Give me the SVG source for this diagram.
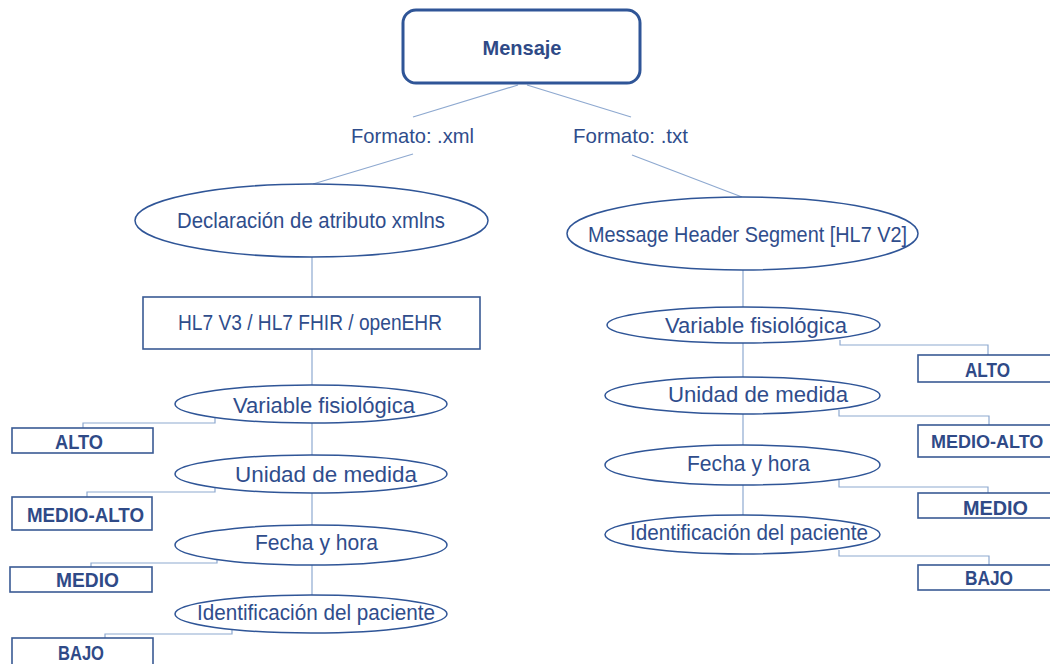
<svg xmlns="http://www.w3.org/2000/svg" width="1050" height="664" viewBox="0 0 1050 664">
  <style>
    text { font-family: "Liberation Sans", Arial, sans-serif; fill: #2F4D8C; }
    .lbl { font-size: 22px; }
    .fmt { font-size: 21px; }
    .lvl { font-size: 19.5px; font-weight: bold; fill: #2F4A87; }
    .lvl-edge { font-size: 18px; }
    .title { font-size: 21px; font-weight: bold; fill: #2F4A87; }
    .ell { fill: #ffffff; stroke: #2F5597; stroke-width: 1.5; }
    .box { fill: #ffffff; stroke: #3A5A94; stroke-width: 1.6; }
    .main { fill: #ffffff; stroke: #2F5597; stroke-width: 3; }
    .conn { fill: none; stroke: #8EA9D0; stroke-width: 1.2; }
  </style>
  <rect width="1050" height="664" fill="#ffffff"/>

  <!-- connectors -->
  <g id="connectors" class="conn">
    <line x1="518" y1="85" x2="413" y2="117"/>
    <line x1="527" y1="85" x2="631" y2="117"/>
    <line x1="413" y1="154" x2="313" y2="184"/>
    <line x1="632" y1="155" x2="742" y2="197"/>
    <!-- left column spine -->
    <line x1="312" y1="257" x2="312" y2="297"/>
    <line x1="312" y1="349" x2="312" y2="385"/>
    <line x1="312" y1="423" x2="312" y2="455"/>
    <line x1="312" y1="493" x2="312" y2="525"/>
    <line x1="312" y1="565" x2="312" y2="595"/>
    <!-- left level links -->
    <path d="M215,418 V423 H83 V428"/>
    <path d="M215,488 V492 H87 V497"/>
    <path d="M217,559 V563 H91 V567"/>
    <path d="M232,630 V634 H105 V638"/>
    <!-- right column spine -->
    <line x1="743" y1="270" x2="743" y2="307"/>
    <line x1="743" y1="343" x2="743" y2="377"/>
    <line x1="743" y1="414" x2="743" y2="445"/>
    <line x1="743" y1="485" x2="743" y2="515"/>
    <!-- right level links -->
    <path d="M840,340 V345 H988 V355"/>
    <path d="M839,410 V416 H989 V425"/>
    <path d="M839,480 V487 H988 V493"/>
    <path d="M839,550 V556 H989 V565"/>
  </g>

  <g id="mensaje">
    <rect class="main" x="403" y="10" width="237" height="73" rx="13"/>
    <text class="title" x="522" y="55" text-anchor="middle" textLength="79" lengthAdjust="spacingAndGlyphs">Mensaje</text>
  </g>

  <g id="formato-xml">
    <text class="fmt" x="351" y="143" textLength="123" lengthAdjust="spacingAndGlyphs">Formato: .xml</text>
  </g>
  <g id="formato-txt">
    <text class="fmt" x="573" y="143" textLength="115" lengthAdjust="spacingAndGlyphs">Formato: .txt</text>
  </g>

  <!-- left branch -->
  <g id="declaracion">
    <ellipse class="ell" cx="311.5" cy="220.5" rx="176.5" ry="36.5"/>
    <text class="lbl" x="177" y="228" textLength="268" lengthAdjust="spacingAndGlyphs">Declaración de atributo xmlns</text>
  </g>
  <g id="estandares">
    <rect class="box" x="143" y="297" width="337" height="52"/>
    <text class="lbl" x="178" y="330" textLength="264" lengthAdjust="spacingAndGlyphs">HL7 V3 / HL7 FHIR / openEHR</text>
  </g>
  <g id="xml-variable">
    <ellipse class="ell" cx="311" cy="404" rx="136" ry="19"/>
    <text class="lbl" x="233" y="413" textLength="182" lengthAdjust="spacingAndGlyphs">Variable fisiológica</text>
  </g>
  <g id="xml-unidad">
    <ellipse class="ell" cx="311" cy="474" rx="136" ry="19"/>
    <text class="lbl" x="235" y="482" textLength="182" lengthAdjust="spacingAndGlyphs">Unidad de medida</text>
  </g>
  <g id="xml-fecha">
    <ellipse class="ell" cx="311" cy="545" rx="136" ry="20"/>
    <text class="lbl" x="255" y="550" textLength="123" lengthAdjust="spacingAndGlyphs">Fecha y hora</text>
  </g>
  <g id="xml-paciente">
    <ellipse class="ell" cx="311" cy="614" rx="136" ry="19"/>
    <text class="lbl" x="197" y="620" textLength="238" lengthAdjust="spacingAndGlyphs">Identificación del paciente</text>
  </g>
  <g id="xml-alto">
    <rect class="box" x="12" y="428" width="141" height="25"/>
    <text class="lvl" x="55" y="449" textLength="48" lengthAdjust="spacingAndGlyphs">ALTO</text>
  </g>
  <g id="xml-medio-alto">
    <rect class="box" x="12" y="497" width="140" height="33"/>
    <text class="lvl" x="27" y="522" textLength="117" lengthAdjust="spacingAndGlyphs">MEDIO-ALTO</text>
  </g>
  <g id="xml-medio">
    <rect class="box" x="10" y="567" width="142" height="25"/>
    <text class="lvl" x="56" y="587" textLength="63" lengthAdjust="spacingAndGlyphs">MEDIO</text>
  </g>
  <g id="xml-bajo">
    <rect class="box" x="12" y="638" width="141" height="40"/>
    <text class="lvl" x="58" y="660" textLength="46" lengthAdjust="spacingAndGlyphs">BAJO</text>
  </g>

  <!-- right branch -->
  <g id="msh">
    <ellipse class="ell" cx="742.5" cy="233.5" rx="175.5" ry="36.5"/>
    <text class="lbl" x="588" y="242" textLength="319" lengthAdjust="spacingAndGlyphs">Message Header Segment [HL7 V2]</text>
  </g>
  <g id="txt-variable">
    <ellipse class="ell" cx="743.5" cy="325" rx="136.5" ry="18"/>
    <text class="lbl" x="665" y="333" textLength="182" lengthAdjust="spacingAndGlyphs">Variable fisiológica</text>
  </g>
  <g id="txt-unidad">
    <ellipse class="ell" cx="742.5" cy="395.5" rx="137.5" ry="18.5"/>
    <text class="lbl" x="668" y="402" textLength="180" lengthAdjust="spacingAndGlyphs">Unidad de medida</text>
  </g>
  <g id="txt-fecha">
    <ellipse class="ell" cx="742.5" cy="465" rx="137.5" ry="20"/>
    <text class="lbl" x="687" y="471" textLength="123" lengthAdjust="spacingAndGlyphs">Fecha y hora</text>
  </g>
  <g id="txt-paciente">
    <ellipse class="ell" cx="742.5" cy="534.5" rx="137.5" ry="19.5"/>
    <text class="lbl" x="630" y="540" textLength="238" lengthAdjust="spacingAndGlyphs">Identificación del paciente</text>
  </g>
  <g id="txt-alto">
    <rect class="box" x="918" y="355" width="150" height="27"/>
    <text class="lvl" x="965" y="377" textLength="45" lengthAdjust="spacingAndGlyphs">ALTO</text>
  </g>
  <g id="txt-medio-alto">
    <rect class="box" x="918" y="425" width="150" height="32"/>
    <text class="lvl lvl-edge" x="931" y="448">MEDIO-ALTO</text>
  </g>
  <g id="txt-medio">
    <rect class="box" x="918" y="493" width="150" height="25"/>
    <text class="lvl" x="963" y="515" textLength="65" lengthAdjust="spacingAndGlyphs">MEDIO</text>
  </g>
  <g id="txt-bajo">
    <rect class="box" x="918" y="565" width="150" height="25"/>
    <text class="lvl" x="965" y="585" textLength="48" lengthAdjust="spacingAndGlyphs">BAJO</text>
  </g>
</svg>
